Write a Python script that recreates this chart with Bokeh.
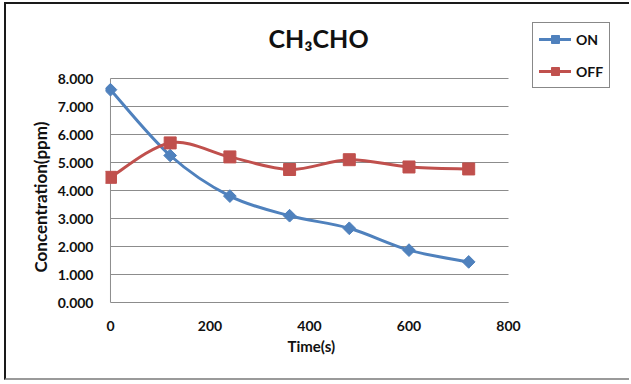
import numpy as np
from bokeh.plotting import figure
from bokeh.models import (Legend, LegendItem, FixedTicker, NumeralTickFormatter,
                          ColumnDataSource, Range1d, Title, Label)
from bokeh.embed import file_html
from bokeh.resources import INLINE

# ---- data ----
time_s = [0, 120, 240, 360, 480, 600, 720]
on_ppm = [7.60, 5.25, 3.80, 3.10, 2.65, 1.87, 1.45]
off_ppm = [4.47, 5.70, 5.20, 4.75, 5.10, 4.84, 4.77]
series_names = ["ON", "OFF"]
x_tick_values = [0, 200, 400, 600, 800]
y_tick_values = [0, 1, 2, 3, 4, 5, 6, 7, 8]
title_text = "CH\u2083CHO"
x_label = "Time(s)"
y_label = "Concentration(ppm)"

BLUE = "#4F81BD"
RED = "#C0504D"
GRID = "#8C8C8C"
TXT = "#111111"
FONT = "Lato"

# ---- layout (pixels) ----
W, H = 625, 378
LEFT, BOTTOM = 99, 80            # frame starts here; frame runs to top/right edge
X_PAD = 10                       # data units left of x=0 so markers are not clipped
PX_PER_X = 403.0 / (x_tick_values[-1] + X_PAD)
PX_PER_Y = 224.0 / y_tick_values[-1]
x_end = -X_PAD + (W - LEFT) / PX_PER_X
y_end = (H - BOTTOM) / PX_PER_Y


def smooth_source(x, y):
    """Cubic Bezier segments through the data points (Excel-style smoothing)."""
    x = np.asarray(x, float)
    y = np.asarray(y, float)
    n = len(x)
    d = dict(x0=[], y0=[], x1=[], y1=[], cx0=[], cy0=[], cx1=[], cy1=[])
    for i in range(n - 1):
        im1 = max(i - 1, 0)
        ip2 = min(i + 2, n - 1)
        d["x0"].append(x[i]); d["y0"].append(y[i])
        d["x1"].append(x[i + 1]); d["y1"].append(y[i + 1])
        d["cx0"].append(x[i] + (x[i + 1] - x[im1]) / 6.0)
        d["cy0"].append(y[i] + (y[i + 1] - y[im1]) / 6.0)
        d["cx1"].append(x[i + 1] - (x[ip2] - x[i]) / 6.0)
        d["cy1"].append(y[i + 1] - (y[ip2] - y[i]) / 6.0)
    return ColumnDataSource(d)


p = figure(width=W, height=H, output_backend="svg", toolbar_location=None,
           x_range=Range1d(-X_PAD, x_end), y_range=Range1d(0, y_end),
           min_border_left=LEFT, min_border_right=0,
           min_border_top=0, min_border_bottom=BOTTOM)
p.styles = {"margin-left": "4px", "margin-top": "2px",
            "border-left": "2px solid #1a1a1a", "border-top": "2px solid #1a1a1a",
            "border-bottom": "2px solid #9a9a9a"}

p.outline_line_color = None
p.background_fill_color = "white"
p.border_fill_color = "white"
p.xgrid.grid_line_color = None
p.ygrid.grid_line_color = None

# title as a label in the frame (frame spans the top area)
p.add_layout(Label(x=213, y=265, x_units="screen", y_units="screen",
                   text=title_text, text_align="center", text_baseline="middle",
                   text_font=FONT, text_font_size="25px", text_font_style="bold",
                   text_color=TXT))

# axes
for ax in (p.xaxis[0], p.yaxis[0]):
    ax.axis_line_color = GRID
    ax.axis_line_width = 1
    ax.major_tick_line_color = None
    ax.minor_tick_line_color = None
    ax.major_tick_out = 0
    ax.major_tick_in = 0
    ax.minor_tick_out = 0
    ax.minor_tick_in = 0
    ax.major_label_text_font = FONT
    ax.major_label_text_font_style = "bold"
    ax.major_label_text_font_size = "14px"
    ax.major_label_text_color = TXT

p.xaxis.ticker = FixedTicker(ticks=x_tick_values)
p.yaxis.ticker = FixedTicker(ticks=y_tick_values)
p.xaxis.bounds = (x_tick_values[0], x_tick_values[-1])
p.yaxis.axis_line_color = None
p.yaxis.formatter = NumeralTickFormatter(format="0.000")
p.xaxis.major_label_standoff = 18
p.yaxis.major_label_standoff = 12

xt = Title(text=x_label, align="left", offset=182, standoff=3,
           text_font=FONT, text_font_style="bold", text_font_size="15px",
           text_color=TXT)
p.add_layout(xt, "below")

yt = Title(text=y_label, align="left", offset=30, standoff=8,
           text_font=FONT, text_font_style="bold", text_font_size="17px",
           text_color=TXT)
p.add_layout(yt, "left")

# horizontal gridlines and the value axis line at x = 0
p.segment(x0=x_tick_values[0], x1=x_tick_values[-1], y0=y_tick_values, y1=y_tick_values,
          line_color=GRID, line_width=1)
p.segment(x0=x_tick_values[0], x1=x_tick_values[0], y0=y_tick_values[0], y1=y_tick_values[-1],
          line_color=GRID, line_width=1)

# series
on_curve = p.bezier(x0="x0", y0="y0", x1="x1", y1="y1", cx0="cx0", cy0="cy0",
                    cx1="cx1", cy1="cy1", source=smooth_source(time_s, on_ppm),
                    line_color=BLUE, line_width=3, line_cap="round")
off_curve = p.bezier(x0="x0", y0="y0", x1="x1", y1="y1", cx0="cx0", cy0="cy0",
                     cx1="cx1", cy1="cy1", source=smooth_source(time_s, off_ppm),
                     line_color=RED, line_width=3, line_cap="round")
on_pts = p.scatter(time_s, on_ppm, marker="square", angle=np.pi / 4, size=9,
                   fill_color=BLUE, line_color=BLUE)
off_pts = p.scatter(time_s, off_ppm, marker="square", size=12,
                    fill_color=RED, line_color=RED)

legend = Legend(items=[LegendItem(label=series_names[0], renderers=[on_curve, on_pts]),
                       LegendItem(label=series_names[1], renderers=[off_curve, off_pts])],
                location=(427, 214))
legend.border_line_color = "#111111"
legend.border_line_width = 1.5
legend.background_fill_color = "white"
legend.background_fill_alpha = 1
legend.label_text_font = FONT
legend.label_text_font_style = "bold"
legend.label_text_font_size = "14px"
legend.label_text_color = TXT
legend.glyph_width = 32
legend.glyph_height = 20
legend.label_height = 20
legend.label_standoff = 5
legend.spacing = 12
legend.padding = 6
legend.margin = 0
p.add_layout(legend, "center")

open("out.html", "w").write(file_html(p, INLINE))
